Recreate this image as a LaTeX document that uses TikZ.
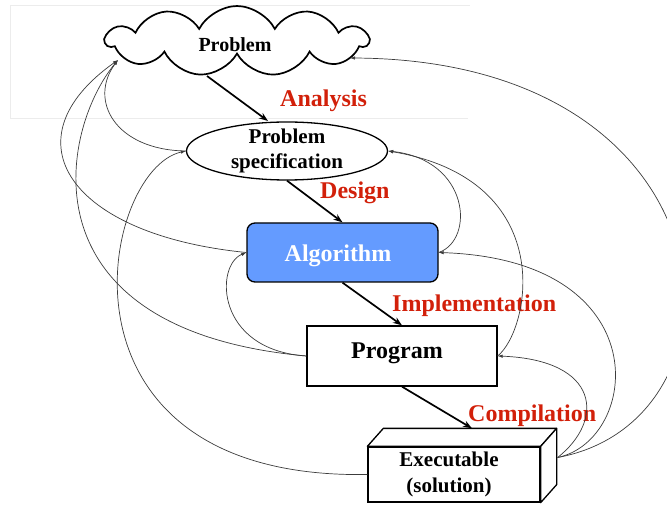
\documentclass[tikz,border=0pt]{standalone}
\usepackage{fontspec}
\setmainfont{Liberation Serif}
\usetikzlibrary{shapes.symbols,shapes.geometric,arrows.meta}
\definecolor{lblred}{RGB}{210,32,10}
\definecolor{algblue}{RGB}{100,155,255}
\definecolor{fbgray}{RGB}{60,60,60}
\begin{document}
\begin{tikzpicture}[x=1pt,y=-1pt,
  main/.style={line width=1.7pt,-{Stealth[length=9pt,width=6.5pt]}},
  fb/.style={draw=fbgray,line width=0.7pt,-{Latex[length=5pt,width=3.5pt]}},
  lbl/.style={text=lblred,font=\fontsize{24}{28}\selectfont\bfseries,anchor=base west,inner sep=0pt},
  boxline/.style={draw,line width=1.3pt,inner sep=0pt},
  txt/.style={inner sep=0pt,align=center}]
\useasboundingbox (0,0) rectangle (667,505);
\clip (0,0) rectangle (667,505);
% light frame
\draw[gray!15,line width=0.6pt] (470,5) -- (10,5) -- (10,118) -- (468,118);
% nodes
\node[cloud,cloud puffs=11,cloud puff arc=125,cloud ignores aspect,draw,line width=1.7pt,
      fill=white,minimum width=262pt,minimum height=70pt,inner sep=0pt] (problem) at (237,41) {};
\node[txt,font=\fontsize{20}{24}\selectfont\bfseries] (problemtext) at (235,45) {Problem};
\node[ellipse,draw,line width=1.3pt,fill=white,minimum width=201pt,minimum height=58pt,inner sep=0pt] (spec) at (287,151) {};
\node[txt,font=\fontsize{21}{25}\selectfont\bfseries] (spectext) at (287,151) {Problem\\specification};
\node[boxline,rounded corners=8pt,fill=algblue,minimum width=191pt,minimum height=59pt] (alg) at (342.5,252.5) {};
\node[txt,text=white,font=\fontsize{24}{28}\selectfont\bfseries] (algtext) at (338,256) {Algorithm};
\node[boxline,fill=white,minimum width=190pt,minimum height=60pt] (prog) at (402,356) {};
\node[txt,font=\fontsize{24}{28}\selectfont\bfseries] (progtext) at (397,353) {Program};
\node[boxline,fill=white,minimum width=172pt,minimum height=55pt] (exec) at (454,474.5) {};
\draw[line width=1.3pt,fill=white,line join=round] (exec.north west) -- ++(16,-18) -- ([shift={(16,-18)}]exec.north east) -- (exec.north east) -- cycle;
\draw[line width=1.3pt,fill=white,line join=round] (exec.north east) -- ++(16,-18) -- ([shift={(16,-18)}]exec.south east) -- (exec.south east) -- cycle;
\node[txt,font=\fontsize{21}{26}\selectfont\bfseries] (exectext) at (449,474) {Executable\\(solution)};
% anchor points
\coordinate (cloudL) at (118,60);
\coordinate (cloudR) at (350,58);
\coordinate (cloudB) at (207,76);
\coordinate (specTop) at (268,121);
\coordinate (execE) at ([shift={(17,-17)}]exec.east);
\coordinate (execTop) at ([shift={(18,-18)}]exec.north);
% main flow
\draw[main] (cloudB) -- (specTop);
\draw[main] (spec.south) -- (alg.north);
\draw[main] (alg.south) -- (prog.north);
\draw[main] (prog.south) -- (execTop);
% labels
\node[lbl] (lanalysis) at (280,107) {Analysis};
\node[lbl] (ldesign) at (320,199) {Design};
\node[lbl] (limpl) at (392,311) {Implementation};
\node[lbl] (lcomp) at (468,421) {Compilation};
% feedback, left side
\draw[fb] (spec.west) .. controls (115,150) and (88,100) .. (cloudL);
\draw[fb] (alg.west) .. controls (70,235) and (5,140) .. (cloudL);
\draw[fb] (prog.west) .. controls (20,330) and (60,130) .. (cloudL);
\draw[fb] (prog.west) .. controls (215,350) and (215,265) .. (alg.west);
\draw[fb] (exec.west) .. controls (40,480) and (100,170) .. (spec.west);
% feedback, right side
\draw[fb] (alg.east) .. controls (475,240) and (470,160) .. (spec.east);
\draw[fb] (prog.east) .. controls (530,330) and (560,180) .. (spec.east);
\draw[fb] (execE) .. controls (640,440) and (660,260) .. (alg.east);
\draw[fb] (execE) .. controls (605,420) and (600,360) .. (prog.east);
\draw[fb] (execE) .. controls (760,420) and (740,60) .. (cloudR);
\end{tikzpicture}
\end{document}
